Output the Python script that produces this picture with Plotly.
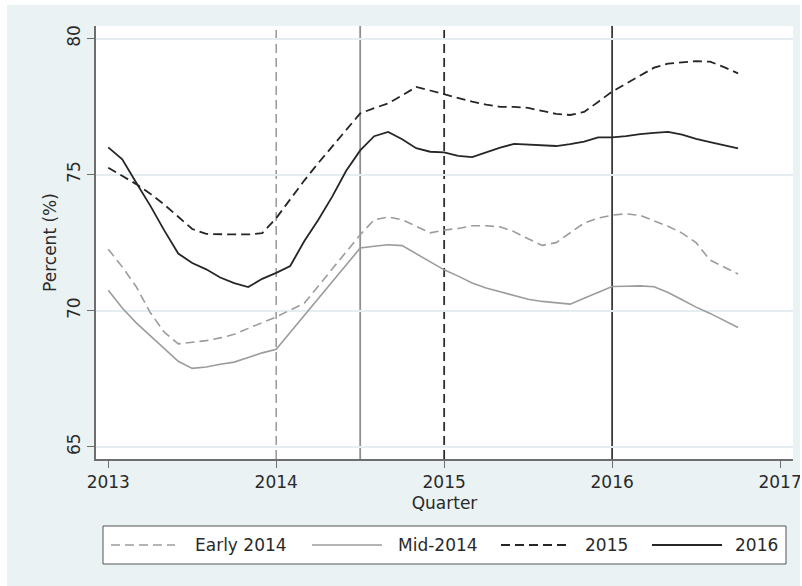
import plotly.graph_objects as go

# Monthly observations, January 2013 through October 2016
start_year = 2013
n_months = 46
months = [start_year + i / 12 for i in range(n_months)]

early_2014 = [72.26, 71.61, 70.88, 69.93, 69.21, 68.78, 68.84, 68.90, 69.00, 69.13,
              69.35, 69.55, 69.77, 70.02, 70.27, 70.90, 71.53, 72.17, 72.79, 73.34,
              73.44, 73.34, 73.10, 72.86, 72.96, 73.02, 73.12, 73.12, 73.08, 72.90,
              72.64, 72.40, 72.50, 72.85, 73.22, 73.40, 73.51, 73.56, 73.50, 73.30,
              73.10, 72.85, 72.50, 71.86, 71.60, 71.35]

mid_2014 = [70.75, 70.10, 69.55, 69.07, 68.60, 68.14, 67.88, 67.93, 68.03, 68.11,
            68.28, 68.45, 68.58, 69.20, 69.82, 70.44, 71.06, 71.68, 72.30, 72.37,
            72.42, 72.39, 72.10, 71.80, 71.50, 71.27, 71.02, 70.83, 70.70, 70.56,
            70.42, 70.34, 70.29, 70.24, 70.46, 70.68, 70.89, 70.90, 70.91, 70.88,
            70.67, 70.40, 70.13, 69.90, 69.64, 69.38]

cohort_2015 = [75.25, 74.95, 74.65, 74.30, 73.90, 73.45, 73.00, 72.82, 72.80, 72.80,
               72.80, 72.85, 73.40, 74.10, 74.78, 75.42, 76.04, 76.65, 77.25, 77.44,
               77.62, 77.91, 78.22, 78.09, 77.95, 77.80, 77.68, 77.57, 77.49, 77.49,
               77.45, 77.34, 77.23, 77.19, 77.30, 77.67, 78.05, 78.34, 78.64, 78.93,
               79.08, 79.12, 79.17, 79.15, 78.95, 78.72]

cohort_2016 = [76.00, 75.56, 74.70, 73.86, 72.95, 72.10, 71.75, 71.52, 71.22, 71.01,
               70.87, 71.17, 71.39, 71.64, 72.55, 73.33, 74.19, 75.14, 75.89, 76.41,
               76.57, 76.30, 75.97, 75.84, 75.82, 75.69, 75.64, 75.81, 75.99, 76.13,
               76.11, 76.07, 76.05, 76.12, 76.21, 76.37, 76.37, 76.41, 76.49, 76.53,
               76.57, 76.47, 76.31, 76.19, 76.08, 75.96]

series_names = ["Early 2014", "Mid-2014", "2015", "2016"]
series_values = [early_2014, mid_2014, cohort_2015, cohort_2016]

# Reference dates marking each cohort
event_dates = [2014.0, 2014.5, 2015.0, 2016.0]

x_ticks = [2013, 2014, 2015, 2016, 2017]
y_ticks = [65, 70, 75, 80]

GRAY = "#9c9c9c"
DARK = "#262626"
DASH = "9px,5px"
styles = [
    dict(color=GRAY, width=1.6, dash=DASH),
    dict(color=GRAY, width=1.6, dash="solid"),
    dict(color=DARK, width=1.8, dash=DASH),
    dict(color=DARK, width=1.8, dash="solid"),
]
event_styles = [
    dict(color=GRAY, width=1.6, dash=DASH),
    dict(color="#8f8f8f", width=1.8, dash="solid"),
    dict(color="#2e2e2e", width=1.8, dash=DASH),
    dict(color="#3a3a3a", width=1.8, dash="solid"),
]

BG = "#eaf2f3"
FONT = "DejaVu Sans"
TXT = "#2a2a2a"

fig = go.Figure()
for name, vals, st in zip(series_names, series_values, styles):
    fig.add_trace(go.Scatter(x=months, y=vals, mode="lines", name=name,
                             line=st, showlegend=False))

shapes = []
for d, st in zip(event_dates, event_styles):
    shapes.append(dict(type="line", xref="x", yref="paper", x0=d, x1=d, y0=0, y1=1,
                       line=st, layer="below"))

# Plot-area geometry in pixels, used to place the legend box and page frame
L, R, T, B = 96, 793, 26, 459
W, H = R - L, B - T


def px(xp):
    return (xp - L) / W


def py(yp):
    return (B - yp) / H


# White page frame around the shaded graph region
shapes += [
    dict(type="rect", xref="paper", yref="paper", x0=px(0), x1=px(7), y0=py(600), y1=py(-10),
         fillcolor="white", line=dict(width=0), layer="above"),
    dict(type="rect", xref="paper", yref="paper", x0=px(0), x1=px(810), y0=py(5), y1=py(-10),
         fillcolor="white", line=dict(width=0), layer="above"),
    dict(type="rect", xref="paper", yref="paper", x0=px(800), x1=px(810), y0=py(600), y1=py(-10),
         fillcolor="white", line=dict(width=0), layer="above"),
]

# Legend box
shapes.append(dict(type="rect", xref="paper", yref="paper", x0=px(103), x1=px(786),
                   y0=py(564), y1=py(526), fillcolor="white",
                   line=dict(color="#555555", width=1)))
legend_items = [(111, 175, 193), (312, 382, 396), (501, 566, 583), (652, 722, 733)]
annotations = []
ly = py(545)
for (x0, x1, tx), name, st in zip(legend_items, series_names, styles):
    shapes.append(dict(type="line", xref="paper", yref="paper", x0=px(x0), x1=px(x1),
                       y0=ly, y1=ly, line=st))
    annotations.append(dict(xref="paper", yref="paper", x=px(tx), y=ly, text=name,
                            showarrow=False, xanchor="left", yanchor="middle",
                            font=dict(family=FONT, size=17, color=TXT)))

fig.update_layout(
    width=802, height=586,
    margin=dict(l=L, r=802 - R, t=T, b=586 - B),
    paper_bgcolor=BG, plot_bgcolor="white",
    shapes=shapes, annotations=annotations,
    font=dict(family=FONT, size=17, color=TXT),
    xaxis=dict(range=[2012.927, 2017.077], tickvals=x_ticks, ticktext=[str(t) for t in x_ticks],
               automargin=False,
               showgrid=False, zeroline=False, showline=True, linecolor="#6e6e6e", linewidth=1.5,
               ticks="outside", ticklen=7, tickwidth=1.3, tickcolor="#6e6e6e",
               tickfont=dict(family=FONT, size=17, color=TXT),
               title=dict(text="Quarter", standoff=6, font=dict(family=FONT, size=17, color=TXT))),
    yaxis=dict(range=[64.55, 80.46], tickvals=y_ticks, ticktext=[str(t) for t in y_ticks],
               automargin=False,
               showgrid=True, gridcolor="#e4eef0", gridwidth=1.5, zeroline=False,
               showline=True, linecolor="#6e6e6e", linewidth=1.5,
               ticks="outside", ticklen=7, tickwidth=1.3, tickcolor="#6e6e6e",
               tickangle=-90, tickfont=dict(family=FONT, size=17, color=TXT),
               title=dict(text="Percent (%)", standoff=4,
                          font=dict(family=FONT, size=17, color=TXT))),
)

fig.write_html("out.html")
